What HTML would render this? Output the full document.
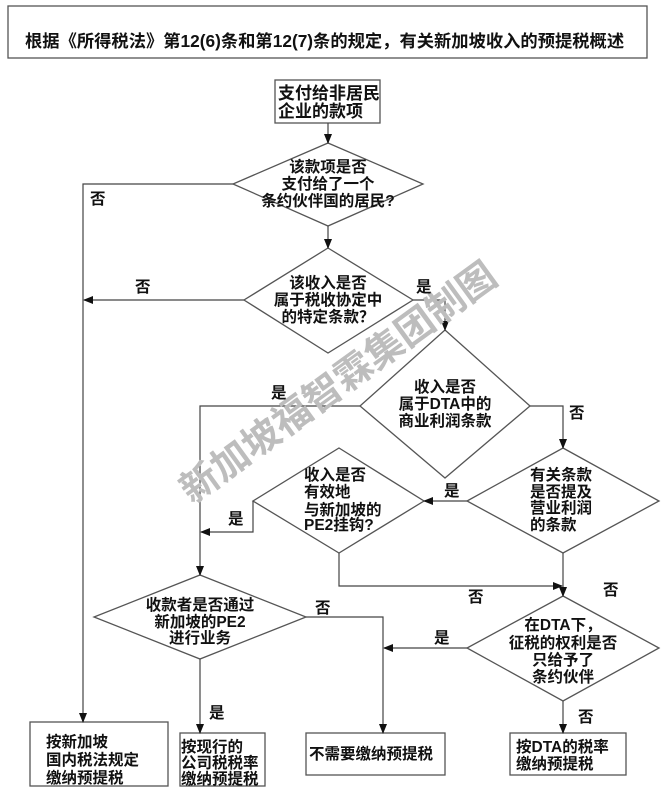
<!DOCTYPE html>
<html><head><meta charset="utf-8"><style>
html,body{margin:0;padding:0;background:#fff;}
svg text{font-family:"Liberation Sans","Noto Sans CJK SC",sans-serif;font-weight:bold;fill:#111;}
</style></head><body>
<svg width="664" height="800" viewBox="0 0 664 800" xmlns="http://www.w3.org/2000/svg">
<defs><marker id="a" markerWidth="10" markerHeight="10" refX="9" refY="5" orient="auto" markerUnits="userSpaceOnUse"><path d="M0,1 L10,5 L0,9 z" fill="#111"/></marker></defs>
<g fill="none" stroke="#555" stroke-width="1.3">
<rect x="8" y="6" width="639" height="52"/>
<rect x="275" y="80" width="105" height="43"/>
<polygon points="328,143 423,184 328,226 233,184"/>
<polygon points="328,248 413,300 328,353 244,300"/>
<polygon points="445,330 530,406 445,478 360,406"/>
<polygon points="563,448 659,501 563,553 467,501"/>
<polygon points="339,448 424,501 339,553 253,501"/>
<polygon points="563,596 659,648 563,701 467,648"/>
<polygon points="200,575 306,617 200,659 94,617"/>
<rect x="30" y="722" width="138" height="64"/>
<rect x="180" y="733" width="85" height="53"/>
<rect x="306" y="733" width="139" height="42"/>
<rect x="510" y="733" width="116" height="42"/>
</g>
<g fill="none" stroke="#444" stroke-width="1.2">
<line x1="328" y1="123" x2="328" y2="143" marker-end="url(#a)"/>
<line x1="328" y1="226" x2="328" y2="248" marker-end="url(#a)"/>
<polyline points="233,184 83,184 83,722" marker-end="url(#a)"/>
<line x1="244" y1="300" x2="84" y2="300" marker-end="url(#a)"/>
<polyline points="413,300 445,300 445,330" marker-end="url(#a)"/>
<polyline points="360,406 200,406 200,575" marker-end="url(#a)"/>
<polyline points="530,406 563,406 563,448" marker-end="url(#a)"/>
<line x1="467" y1="501" x2="424" y2="501" marker-end="url(#a)"/>
<polyline points="253,501 253,532 201,532" marker-end="url(#a)"/>
<polyline points="339,553 339,586 562,586" marker-end="url(#a)"/>
<line x1="563" y1="553" x2="563" y2="596" marker-end="url(#a)"/>
<line x1="467" y1="648" x2="384" y2="648" marker-end="url(#a)"/>
<polyline points="306,617 383,617 383,733" marker-end="url(#a)"/>
<line x1="200" y1="659" x2="200" y2="733" marker-end="url(#a)"/>
<line x1="563" y1="701" x2="563" y2="733" marker-end="url(#a)"/>
</g>
<text x="340" y="395" transform="rotate(-36 340 385)" text-anchor="middle" font-size="38" style="fill:#bdbdbd">新加坡福智霖集团制图</text>
<text x="25" y="47" font-size="17.3">根据《所得税法》第12(6)条和第12(7)条的规定，有关新加坡收入的预提税概述</text>
<g font-size="17">
<text x="278" y="99">支付给非居民</text><text x="278" y="117">企业的款项</text>
</g>
<g font-size="15.5" text-anchor="middle">
<text x="328" y="172">该款项是否</text><text x="328" y="189">支付给了一个</text><text x="328" y="206">条约伙伴国的居民?</text>
<text x="328" y="288">该收入是否</text><text x="328" y="305">属于税收协定中</text><text x="328" y="322">的特定条款？</text>
<text x="445" y="392">收入是否</text><text x="445" y="409">属于DTA中的</text><text x="445" y="426">商业利润条款</text>
<text x="200" y="610">收款者是否通过</text><text x="200" y="627">新加坡的PE2</text><text x="200" y="643">进行业务</text>
<text x="563" y="630">在DTA下，</text><text x="563" y="648">征税的权利是否</text><text x="563" y="665">只给予了</text><text x="563" y="682">条约伙伴</text>
</g>
<g font-size="15.5">
<text x="530" y="480">有关条款</text><text x="530" y="497">是否提及</text><text x="530" y="513">营业利润</text><text x="530" y="530">的条款</text>
<text x="304" y="480">收入是否</text><text x="304" y="497">有效地</text><text x="304" y="515">与新加坡的</text><text x="304" y="530">PE2挂钩?</text>
<text x="46" y="747">按新加坡</text><text x="46" y="765">国内税法规定</text><text x="46" y="783">缴纳预提税</text>
<text x="181" y="752">按现行的</text><text x="181" y="768">公司税税率</text><text x="181" y="784">缴纳预提税</text>
<text x="309" y="759">不需要缴纳预提税</text>
<text x="516" y="752">按DTA的税率</text><text x="516" y="769">缴纳预提税</text>
<text x="90" y="204">否</text><text x="135" y="292">否</text><text x="416" y="292">是</text>
<text x="271" y="398">是</text><text x="569" y="418">否</text><text x="444" y="496">是</text>
<text x="228" y="524">是</text><text x="468" y="602">否</text><text x="603" y="595">否</text>
<text x="434" y="643">是</text><text x="315" y="613">否</text><text x="209" y="718">是</text><text x="578" y="722">否</text>
</g>
</svg>
</body></html>
